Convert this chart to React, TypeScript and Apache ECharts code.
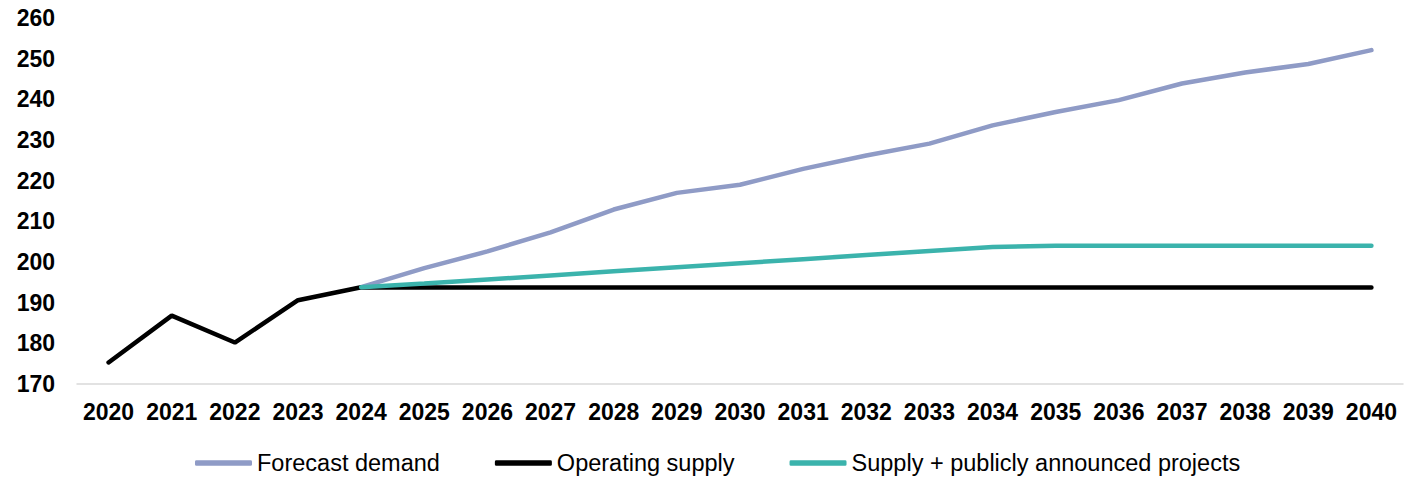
import React, { useEffect, useRef } from "react";
import * as echarts from "echarts";

const years = ["2020","2021","2022","2023","2024","2025","2026","2027","2028","2029","2030","2031","2032","2033","2034","2035","2036","2037","2038","2039","2040"];
const forecastDemand = [null,null,null,null,193.8,198.5,202.6,207.3,212.9,217.0,219.0,222.9,226.2,229.1,233.6,236.9,239.8,243.9,246.6,248.7,252.1];
const operatingSupply = [175.3,186.8,180.2,190.6,193.8,193.7,193.7,193.7,193.7,193.7,193.7,193.7,193.7,193.7,193.7,193.7,193.7,193.7,193.7,193.7,193.7];
const supplyAnnounced = [null,null,null,null,193.8,194.7,195.7,196.7,197.7,198.7,199.7,200.7,201.7,202.7,203.7,204.0,204.0,204.0,204.0,204.0,204.0];
const legendNames = ["Forecast demand", "Operating supply", "Supply + publicly announced projects"];

const FONT = "'Liberation Sans', Arial, sans-serif";

export default function App() {
  const ref = useRef<HTMLDivElement>(null);
  useEffect(() => {
    const chart = echarts.init(ref.current!, null, { renderer: "svg" });
    chart.setOption({
      animation: false,
      grid: { left: 77, right: 21, top: 18, bottom: 95 },
      legend: {
        left: 190,
        top: 446,
        itemWidth: 57,
        itemHeight: 5.5,
        itemGap: 55,
        icon: "roundRect",
        textStyle: { fontFamily: FONT, fontSize: 23.5, color: "#000" },
        data: legendNames,
      },
      xAxis: {
        type: "category",
        data: years,
        boundaryGap: true,
        axisLine: { lineStyle: { color: "#d9d9d9", width: 1.5 } },
        axisTick: { show: false },
        axisLabel: { fontFamily: FONT, fontSize: 23, fontWeight: "bold", color: "#000", margin: 16, interval: 0 },
      },
      yAxis: {
        type: "value",
        min: 170,
        max: 260,
        interval: 10,
        splitLine: { show: false },
        axisLine: { show: false },
        axisTick: { show: false },
        axisLabel: { fontFamily: FONT, fontSize: 23, fontWeight: "bold", color: "#000", margin: 22 },
      },
      series: [
        {
          name: legendNames[0],
          type: "line",
          data: forecastDemand,
          symbol: "none",
          lineStyle: { color: "#8f9bc6", width: 4.5, cap: "round" },
          itemStyle: { color: "#8f9bc6" },
          z: 2,
        },
        {
          name: legendNames[1],
          type: "line",
          data: operatingSupply,
          symbol: "none",
          lineStyle: { color: "#000000", width: 4.5, cap: "round" },
          itemStyle: { color: "#000000" },
          z: 3,
        },
        {
          name: legendNames[2],
          type: "line",
          data: supplyAnnounced,
          symbol: "none",
          lineStyle: { color: "#3bb3ac", width: 4.5, cap: "round" },
          itemStyle: { color: "#3bb3ac" },
          z: 4,
        },
      ],
    });
    return () => chart.dispose();
  }, []);
  return <div ref={ref} style={{ position: "absolute", left: 0, top: 0, width: 1424, height: 479 }} />;
}
